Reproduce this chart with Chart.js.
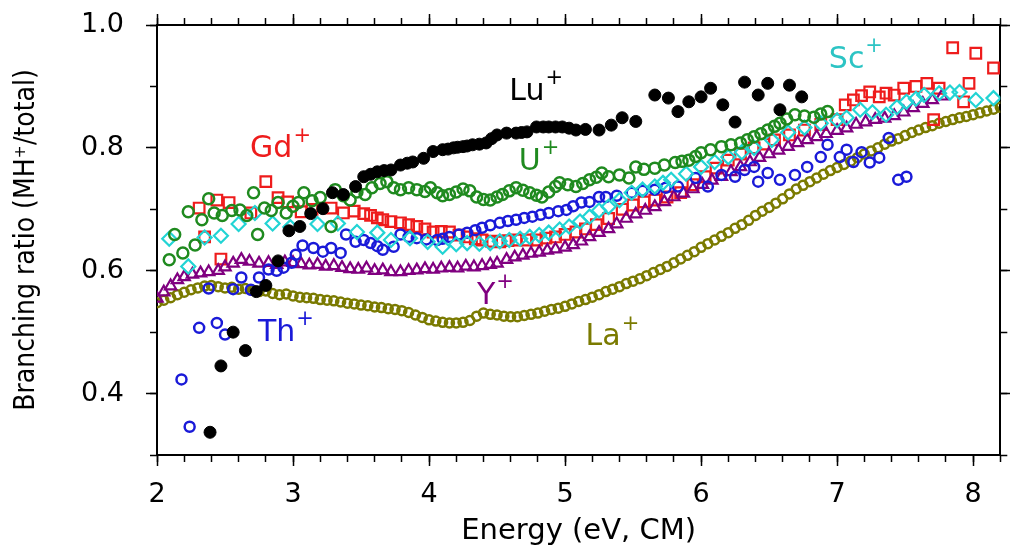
<!DOCTYPE html>
<html>
<head>
<meta charset="utf-8">
<script src="https://cdn.jsdelivr.net/npm/chart.js@4.4.1/dist/chart.umd.min.js"></script>
<style>
  html, body { margin: 0; padding: 0; background: #fff; }
  #wrap { width: 1010px; height: 550px; }
</style>
</head>
<body>
<div id="wrap"><canvas id="chart" width="1010" height="550"></canvas></div>
<script>
// axis ranges
const X_MIN = 2, X_MAX = 8.2;
const Y_MIN = 0.3, Y_MAX = 1.0;

// series, [energy, branching ratio]
const lu = [[2.39,.337],[2.47,.445],[2.56,.500],[2.65,.470],[2.73,.566],[2.80,.576],[2.89,.616],[2.97,.665],[3.05,.672],[3.13,.693],[3.22,.701],[3.29,.727],[3.37,.724],[3.46,.737],[3.52,.753],[3.57,.757],[3.62,.761],[3.67,.763],[3.72,.764],[3.79,.772],[3.84,.775],[3.88,.777],[3.96,.783],[4.03,.794],[4.10,.797],[4.14,.798],[4.18,.800],[4.21,.801],[4.25,.802],[4.28,.803],[4.32,.805],[4.37,.806],[4.42,.808],[4.46,.815],[4.50,.821],[4.57,.824],[4.64,.824],[4.68,.825],[4.72,.826],[4.79,.834],[4.84,.834],[4.88,.834],[4.93,.834],[4.98,.834],[5.03,.832],[5.08,.829],[5.15,.830],[5.25,.829],[5.34,.837],[5.42,.849],[5.52,.843],[5.66,.886],[5.76,.881],[5.83,.859],[5.91,.875],[6.00,.883],[6.07,.897],[6.16,.870],[6.25,.842],[6.32,.907],[6.42,.886],[6.49,.905],[6.58,.862],[6.65,.902],[6.74,.883]];

const u = [[2.09,.618],[2.13,.659],[2.19,.629],[2.23,.696],[2.28,.642],[2.33,.683],[2.38,.717],[2.42,.694],[2.48,.690],[2.55,.698],[2.61,.699],[2.66,.690],[2.71,.727],[2.74,.659],[2.79,.702],[2.84,.698],[2.89,.711],[2.95,.694],[3.00,.705],[3.04,.711],[3.08,.727],[3.14,.714],[3.20,.719],[3.28,.672],[3.31,.732],[3.37,.722],[3.42,.715],[3.47,.728],[3.53,.724],[3.58,.735],[3.64,.742],[3.69,.745],[3.74,.735],[3.79,.732],[3.85,.735],[3.91,.732],[3.97,.729],[4.01,.735],[4.06,.727],[4.10,.722],[4.15,.724],[4.20,.728],[4.25,.733],[4.30,.730],[4.35,.720],[4.40,.716],[4.45,.715],[4.50,.720],[4.54,.724],[4.59,.730],[4.64,.735],[4.69,.731],[4.74,.727],[4.79,.723],[4.83,.720],[4.88,.728],[4.93,.737],[4.96,.743],[5.02,.740],[5.08,.737],[5.13,.742],[5.18,.748],[5.23,.752],[5.27,.759],[5.32,.753],[5.40,.756],[5.47,.751],[5.52,.769],[5.58,.765],[5.66,.767],[5.73,.772],[5.81,.776],[5.86,.778],[5.91,.780],[5.96,.786],[6.00,.792],[6.07,.797],[6.15,.802],[6.22,.805],[6.29,.808],[6.34,.813],[6.39,.818],[6.44,.823],[6.49,.829],[6.54,.835],[6.58,.840],[6.63,.847],[6.69,.854],[6.76,.852],[6.83,.850],[6.88,.855],[6.93,.859]];

const sc = [[2.09,.652],[2.23,.607],[2.35,.654],[2.47,.657],[2.60,.676],[2.72,.694],[2.85,.677],[2.98,.671],[3.18,.676],[3.33,.677],[3.47,.663],[3.62,.662],[3.72,.650],[3.86,.653],[3.99,.647],[4.10,.639],[4.20,.643],[4.28,.645],[4.37,.644],[4.45,.645],[4.52,.648],[4.59,.650],[4.67,.652],[4.74,.655],[4.81,.658],[4.88,.662],[4.96,.667],[5.03,.672],[5.11,.680],[5.18,.688],[5.25,.698],[5.32,.704],[5.40,.715],[5.49,.727],[5.57,.732],[5.66,.737],[5.72,.743],[5.78,.748],[5.89,.758],[6.00,.769],[6.10,.777],[6.20,.785],[6.30,.793],[6.39,.800],[6.52,.813],[6.64,.825],[6.76,.833],[6.88,.840],[7.00,.845],[7.07,.849],[7.17,.862],[7.26,.858],[7.36,.854],[7.44,.866],[7.51,.875],[7.58,.880],[7.64,.886],[7.75,.889],[7.83,.890],[7.90,.891],[8.02,.878],[8.15,.881]];

const th = [[2.18,.423],[2.24,.346],[2.31,.507],[2.38,.571],[2.44,.515],[2.50,.496],[2.56,.570],[2.62,.589],[2.69,.569],[2.75,.589],[2.82,.602],[2.88,.600],[2.93,.605],[2.99,.613],[3.02,.626],[3.07,.641],[3.15,.637],[3.22,.631],[3.28,.637],[3.35,.629],[3.39,.659],[3.46,.647],[3.52,.650],[3.57,.645],[3.62,.640],[3.66,.634],[3.74,.639],[3.79,.659],[3.85,.655],[3.91,.653],[3.98,.651],[4.06,.650],[4.10,.652],[4.15,.655],[4.22,.659],[4.28,.662],[4.34,.666],[4.39,.670],[4.45,.674],[4.52,.678],[4.58,.681],[4.64,.683],[4.70,.686],[4.76,.688],[4.82,.691],[4.88,.694],[4.95,.697],[5.01,.699],[5.06,.705],[5.12,.711],[5.18,.712],[5.25,.720],[5.30,.720],[5.38,.722],[5.49,.727],[5.57,.730],[5.66,.732],[5.74,.735],[5.83,.737],[5.96,.751],[6.05,.737],[6.15,.756],[6.25,.753],[6.32,.764],[6.39,.769],[6.42,.745],[6.49,.759],[6.58,.748],[6.69,.756],[6.78,.769],[6.88,.785],[6.93,.805],[7.02,.785],[7.07,.797],[7.12,.777],[7.18,.793],[7.24,.776],[7.31,.784],[7.38,.816],[7.45,.748],[7.51,.753]];

const yIon = [[2.00,.555],[2.05,.565],[2.10,.575],[2.15,.585],[2.20,.590],[2.26,.594],[2.32,.596],[2.38,.598],[2.45,.600],[2.50,.606],[2.56,.612],[2.62,.618],[2.68,.615],[2.75,.612],[2.82,.613],[2.88,.610],[2.94,.614],[3.00,.613],[3.06,.611],[3.12,.609],[3.18,.610],[3.24,.607],[3.30,.608],[3.36,.605],[3.42,.603],[3.48,.602],[3.54,.604],[3.60,.600],[3.66,.601],[3.72,.598],[3.79,.598],[3.85,.600],[3.91,.601],[3.97,.603],[4.03,.602],[4.09,.604],[4.15,.605],[4.21,.604],[4.27,.607],[4.33,.606],[4.39,.608],[4.45,.610],[4.50,.612],[4.57,.618],[4.63,.622],[4.69,.625],[4.75,.628],[4.81,.630],[4.87,.633],[4.93,.635],[5.00,.638],[5.06,.642],[5.12,.648],[5.18,.655],[5.25,.662],[5.32,.668],[5.38,.676],[5.45,.685],[5.52,.692],[5.59,.698],[5.66,.704],[5.73,.712],[5.80,.720],[5.87,.726],[5.94,.733],[6.01,.740],[6.08,.747],[6.15,.753],[6.22,.761],[6.29,.769],[6.36,.777],[6.43,.784],[6.50,.790],[6.57,.796],[6.64,.802],[6.71,.808],[6.78,.813],[6.85,.818],[6.92,.823],[7.00,.828],[7.07,.832],[7.14,.838],[7.21,.842],[7.28,.846],[7.35,.848],[7.42,.852],[7.49,.858],[7.56,.865],[7.63,.872],[7.70,.878],[7.77,.884]];

const gd = [[2.31,.702],[2.35,.655],[2.44,.715],[2.47,.619],[2.53,.711],[2.69,.694],[2.80,.745],[2.89,.719],[2.96,.712],[3.06,.696],[3.14,.700],[3.28,.702],[3.37,.694],[3.45,.697],[3.52,.693],[3.57,.690],[3.62,.686],[3.66,.683],[3.72,.680],[3.79,.678],[3.85,.675],[3.91,.672],[3.97,.668],[4.03,.663],[4.09,.664],[4.15,.663],[4.22,.658],[4.28,.655],[4.34,.652],[4.39,.650],[4.46,.648],[4.52,.647],[4.58,.649],[4.64,.650],[4.72,.650],[4.79,.650],[4.86,.653],[4.93,.655],[5.00,.659],[5.08,.663],[5.15,.668],[5.23,.675],[5.32,.685],[5.42,.700],[5.50,.707],[5.58,.712],[5.66,.715],[5.75,.720],[5.85,.727],[5.94,.740],[6.03,.753],[6.11,.767],[6.20,.780],[6.29,.790],[6.39,.800],[6.46,.806],[6.54,.813],[6.65,.821],[6.76,.829],[6.88,.838],[7.00,.846],[7.06,.870],[7.12,.878],[7.18,.885],[7.24,.891],[7.31,.883],[7.36,.889],[7.42,.886],[7.49,.897],[7.58,.900],[7.66,.905],[7.71,.846],[7.75,.897],[7.85,.963],[7.93,.875],[7.97,.905],[8.02,.954],[8.15,.930]];

const la = [[2.00,.548],[2.05,.552],[2.10,.556],[2.15,.561],[2.20,.565],[2.25,.569],[2.30,.572],[2.35,.575],[2.40,.576],[2.45,.574],[2.50,.572],[2.55,.573],[2.60,.570],[2.65,.571],[2.70,.568],[2.75,.566],[2.80,.567],[2.85,.563],[2.90,.561],[2.95,.562],[3.00,.559],[3.05,.557],[3.10,.556],[3.15,.555],[3.20,.553],[3.25,.552],[3.30,.551],[3.35,.549],[3.40,.547],[3.45,.546],[3.50,.544],[3.55,.543],[3.60,.541],[3.65,.540],[3.70,.538],[3.75,.537],[3.80,.535],[3.85,.532],[3.90,.528],[3.95,.524],[4.00,.520],[4.05,.518],[4.10,.516],[4.15,.515],[4.20,.515],[4.25,.516],[4.30,.519],[4.35,.526],[4.40,.531],[4.45,.529],[4.50,.528],[4.55,.526],[4.60,.525],[4.65,.525],[4.70,.527],[4.75,.529],[4.80,.531],[4.85,.534],[4.90,.537],[4.95,.539],[5.00,.542],[5.05,.546],[5.10,.550],[5.15,.553],[5.20,.557],[5.25,.561],[5.30,.566],[5.35,.570],[5.40,.574],[5.45,.579],[5.50,.583],[5.55,.587],[5.60,.592],[5.65,.597],[5.70,.602],[5.75,.607],[5.80,.613],[5.85,.619],[5.90,.625],[5.95,.631],[6.00,.638],[6.05,.644],[6.10,.650],[6.15,.656],[6.20,.662],[6.25,.669],[6.30,.675],[6.35,.682],[6.40,.690],[6.45,.697],[6.50,.703],[6.55,.710],[6.60,.717],[6.65,.725],[6.70,.733],[6.75,.739],[6.80,.745],[6.85,.751],[6.90,.757],[6.95,.763],[7.00,.768],[7.05,.773],[7.10,.778],[7.15,.784],[7.20,.790],[7.25,.795],[7.30,.800],[7.35,.806],[7.40,.811],[7.45,.815],[7.50,.820],[7.55,.825],[7.60,.829],[7.65,.833],[7.70,.836],[7.75,.840],[7.80,.843],[7.85,.846],[7.90,.849],[7.95,.851],[8.00,.854],[8.05,.857],[8.10,.860],[8.15,.863],[8.20,.866]];

// in-plot ion labels, anchored in data units
const ionNames = ['Lu', 'Gd', 'U', 'Sc', 'Y', 'La', 'Th'];
const ionAtX = [4.72, 2.84, 4.74, 7.07, 4.42, 5.28, 2.88];
const ionAtY = [0.891, 0.797, 0.777, 0.943, 0.559, 0.491, 0.499];
const ionColors = ['#000000', '#ee1c1c', '#1f8a1f', '#2cc4c4', '#800080', '#7a7a00', '#1a1ad8'];

const FONT = '"DejaVu Sans", sans-serif';

function series(pts, color, style, radius, width, filled) {
    return {
        data: pts.map(p => ({ x: p[0], y: p[1] })),
        showLine: false,
        pointStyle: style,
        pointRadius: radius,
        pointHoverRadius: radius,
        pointBorderWidth: width,
        pointBorderColor: color,
        pointBackgroundColor: filled ? color : 'rgba(0,0,0,0)'
    };
}

// plain frame axis: tick marks only, fixed thickness
function frameAxis(position, min, max, step, tickLength, size, weight, withBorder) {
    const horizontal = position === 'top' || position === 'bottom';
    return {
        type: 'linear',
        position: position,
        min: min,
        max: max,
        weight: weight,
        ticks: { display: false, stepSize: step, includeBounds: false },
        grid: { drawOnChartArea: false, drawTicks: true, tickLength: tickLength, tickColor: '#000', tickWidth: 1.5 },
        border: { display: withBorder, color: '#000', width: 2 },
        afterFit: s => {
            if (horizontal) {
                s.height = size;
            } else {
                s.width = size;
                // labels may stick out, the frame stays put
                s.paddingTop = 0;
                s.paddingBottom = 0;
            }
        }
    };
}

const ionLabels = {
    id: 'ionLabels',
    afterDatasetsDraw(chart) {
        const { ctx, scales } = chart;
        ctx.save();
        ctx.textBaseline = 'middle';
        ionNames.forEach((name, i) => {
            const px = scales.x.getPixelForValue(ionAtX[i]);
            const py = scales.y.getPixelForValue(ionAtY[i]);
            ctx.fillStyle = ionColors[i];
            ctx.font = '30px ' + FONT;
            ctx.textAlign = 'center';
            ctx.fillText(name, px, py);
            const w = ctx.measureText(name).width;
            ctx.font = '21px ' + FONT;
            ctx.textAlign = 'left';
            ctx.fillText('+', px + w / 2 + 1, py - 13);
        });
        ctx.restore();
    }
};

const xMain = frameAxis('bottom', X_MIN, X_MAX, 1, 11, 95, 1, true);
xMain.ticks = {
    display: true, stepSize: 1, includeBounds: false, autoSkip: false, maxRotation: 0,
    padding: 13, color: '#000', font: { family: FONT, size: 27 },
    callback: v => String(v)
};
xMain.title = {
    display: true, text: 'Energy (eV, CM)', color: '#000',
    font: { family: FONT, size: 29 }, padding: { top: 0, bottom: 1 }
};

const yMain = frameAxis('left', Y_MIN, Y_MAX, 0.2, 11, 157, 1, true);
yMain.ticks = {
    display: true, stepSize: 0.2, includeBounds: false, autoSkip: false,
    padding: 22, color: '#000', font: { family: FONT, size: 27 },
    callback: v => v.toFixed(1)
};
yMain.title = {
    display: true, text: 'Branching ratio (MH\u207A/total)', color: '#000',
    font: { family: '"Liberation Sans Narrow", "DejaVu Sans Condensed", sans-serif', size: 28 },
    padding: { top: 10, bottom: 0 }
};

new Chart(document.getElementById('chart'), {
    type: 'scatter',
    data: {
        datasets: [
            series(lu, '#000000', 'circle', 6, 1, true),
            series(u, '#1f8a1f', 'circle', 5.5, 2.5, false),
            series(sc, '#22d4d4', 'rectRot', 7, 2.2, false),
            series(th, '#1a1ad8', 'circle', 5, 2.5, false),
            series(yIon, '#800080', 'triangle', 6.5, 2.2, false),
            series(gd, '#ee1c1c', 'rect', 7.5, 2.2, false),
            series(la, '#7a7a00', 'circle', 4.5, 2.5, false)
        ]
    },
    options: {
        responsive: false,
        animation: false,
        devicePixelRatio: 1,
        layout: { padding: 0 },
        plugins: { legend: { display: false }, tooltip: { enabled: false } },
        scales: {
            x: xMain,
            xMinor: frameAxis('bottom', X_MIN, X_MAX, 0.2, 7, 0, 0, false),
            xTop: frameAxis('top', X_MIN, X_MAX, 1, 11, 25, 1, true),
            xTopMinor: frameAxis('top', X_MIN, X_MAX, 0.2, 7, 0, 0, false),
            y: yMain,
            yMinor: frameAxis('left', Y_MIN, Y_MAX, 0.1, 7, 0, 0, false),
            yRight: frameAxis('right', Y_MIN, Y_MAX, 0.2, 11, 6, 1, true),
            yRightMinor: frameAxis('right', Y_MIN, Y_MAX, 0.1, 7, 0, 0, false)
        }
    },
    plugins: [ionLabels]
});
</script>
</body>
</html>
